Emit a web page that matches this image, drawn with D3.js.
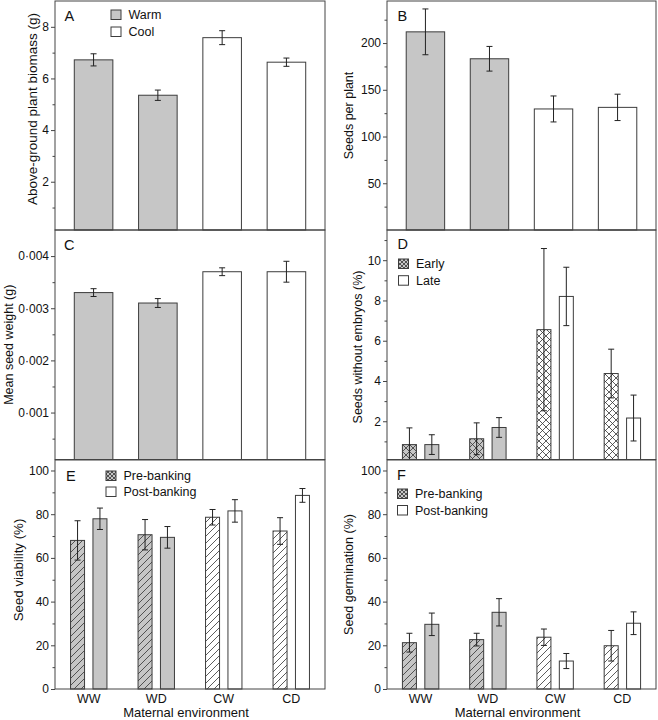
<!DOCTYPE html>
<html><head><meta charset="utf-8">
<script src="https://cdn.jsdelivr.net/npm/d3@7"></script>
<style>body{margin:0;background:#fff}svg{display:block;font-family:"Liberation Sans",Arial,Helvetica,sans-serif}</style>
</head><body><svg id="c" width="658" height="720"></svg>
<script>
// ---------- data ----------
const categories = ["WW", "WD", "CW", "CD"];
const warmCategories = ["WW", "WD"];

const biomassMean = [6.72, 5.35, 7.58, 6.63];
const biomassErr  = [0.235, 0.20, 0.27, 0.16];
const biomassTicks = [2, 4, 6, 8];
const biomassMinor = [1, 3, 5, 7];

const seedsMean = [212, 183.2, 129.5, 131.2];
const seedsErr  = [24.5, 13.2, 13.9, 14.1];
const seedsTicks = [50, 100, 150, 200];
const seedsMinor = [25, 75, 125, 175, 225];

const weightMean = [0.0033, 0.0031, 0.0037, 0.0037];
const weightErr  = [0.000075, 0.000085, 0.000075, 0.0002];
const weightTicks = [0.001, 0.002, 0.003, 0.004];
const weightMinor = [0.0005, 0.0015, 0.0025, 0.0035];

const embryoEarlyMean = [0.84, 1.13, 6.55, 4.37];
const embryoEarlyErr  = [0.83, 0.79, 4.03, 1.21];
const embryoLateMean  = [0.84, 1.69, 8.2, 2.16];
const embryoLateErr   = [0.49, 0.49, 1.45, 1.14];
const embryoTicks = [2, 4, 6, 8, 10];
const embryoMinor = [1, 3, 5, 7, 9, 11];

const viabilityPreMean  = [68.0, 70.6, 78.6, 72.3];
const viabilityPreErr   = [9.0, 6.95, 3.55, 6.1];
const viabilityPostMean = [77.9, 69.4, 81.5, 88.6];
const viabilityPostErr  = [4.9, 4.95, 5.15, 3.15];

const germPreMean  = [21.2, 22.6, 23.7, 19.8];
const germPreErr   = [4.3, 2.9, 3.75, 7.0];
const germPostMean = [29.6, 35.1, 12.8, 30.1];
const germPostErr  = [5.15, 6.25, 3.45, 5.2];

const pctTicks = [0, 20, 40, 60, 80, 100];
const pctMinor = [10, 30, 50, 70, 90];

const legendTemp = ["Warm", "Cool"];
const legendEmbryo = ["Early", "Late"];
const legendBank = ["Pre-banking", "Post-banking"];
const xTitle = "Maternal environment";

// ---------- style ----------
const GRAY = "#c6c6c6", STROKE = "#3c3c3c", FRAME = "#444";
const svg = d3.select("#c");
const defs = svg.append("defs");

function makePattern(id, bg, size, cross) {
  const p = defs.append("pattern").attr("id", id).attr("patternUnits", "userSpaceOnUse")
    .attr("width", size).attr("height", size);
  p.append("rect").attr("width", size).attr("height", size).attr("fill", bg);
  const s = size;
  p.append("path").attr("d", `M0,${s} L${s},0 M${-s/2},${s/2} L${s/2},${-s/2} M${s/2},${s*1.5} L${s*1.5},${s/2}`)
    .attr("stroke", "#333").attr("stroke-width", 0.8).attr("fill", "none");
  if (cross) {
    p.append("path").attr("d", `M0,0 L${s},${s} M${-s/2},${s/2} L${s/2},${s*1.5} M${s/2},${-s/2} L${s*1.5},${s/2}`)
      .attr("stroke", "#333").attr("stroke-width", 0.8).attr("fill", "none");
  }
}
makePattern("crossGray", GRAY, 7, true);
makePattern("crossWhite", "#fff", 7, true);
makePattern("hatchGray", GRAY, 7, false);
makePattern("hatchWhite", "#fff", 7, false);
makePattern("crossLegend", GRAY, 4, true);

const isWarm = c => warmCategories.includes(c);

const cols = [[55, 325], [387, 656]];
const rows = [[1, 230], [230, 459.5], [460, 689]];

function panel(o) {
  const [x0, x1] = cols[o.col], [y0, y1] = rows[o.row];
  const y = d3.scaleLinear().domain(o.domain).range([y1, y0]);
  const g = svg.append("g");
  const fmt = o.fmt || (d => d);
  g.append("g").attr("transform", `translate(${x0},0)`)
    .call(d3.axisLeft(y).tickValues(o.major).tickSize(4).tickPadding(2).tickFormat(fmt))
    .call(a => a.select(".domain").remove())
    .call(a => a.selectAll("line").attr("stroke", FRAME))
    .call(a => a.selectAll("text").attr("font-size", 12).attr("fill", "#111")
      .attr("font-family", '"Liberation Sans",Arial,sans-serif'));
  g.append("g").attr("transform", `translate(${x0},0)`)
    .call(d3.axisLeft(y).tickValues(o.minor).tickSize(2.5).tickFormat(""))
    .call(a => a.select(".domain").remove())
    .call(a => a.selectAll("line").attr("stroke", FRAME));
  g.append("text").attr("transform", `translate(${o.titleX},${o.titleY || (y0 + y1) / 2}) rotate(-90)`)
    .attr("text-anchor", "middle").attr("dy", "0.35em").attr("font-size", o.titleSize || 12.5).attr("fill", "#111")
    .text(o.title);
  return { g, y, x0, x1, y0, y1 };
}

function errBars(g, y, xs, means, errs, y1) {
  means.forEach((m, i) => {
    const top = y(m + errs[i]);
    const lowV = m - errs[i];
    const bot = Math.min(y(lowV), y1);
    const cx = xs[i];
    g.append("line").attr("x1", cx).attr("x2", cx).attr("y1", top).attr("y2", bot)
      .attr("stroke", "#222").attr("stroke-width", 1);
    g.append("line").attr("x1", cx - 3).attr("x2", cx + 3).attr("y1", top).attr("y2", top)
      .attr("stroke", "#222").attr("stroke-width", 1);
    if (y(lowV) < y1 - 0.5)
      g.append("line").attr("x1", cx - 3).attr("x2", cx + 3).attr("y1", bot).attr("y2", bot)
        .attr("stroke", "#222").attr("stroke-width", 1);
  });
}

function singlePanel(o, means, errs) {
  const p = panel(o);
  const x = d3.scaleBand().domain(categories).range([p.x0, p.x1]).paddingInner(0.4).paddingOuter(0.3);
  p.g.selectAll("rect.bar").data(categories).join("rect").attr("class", "bar")
    .attr("x", d => x(d)).attr("width", x.bandwidth())
    .attr("y", (d, i) => p.y(means[i])).attr("height", (d, i) => p.y1 - p.y(means[i]))
    .attr("fill", d => isWarm(d) ? GRAY : "#fff").attr("stroke", STROKE).attr("stroke-width", 1);
  errBars(p.g, p.y, categories.map(c => x(c) + x.bandwidth() / 2), means, errs, p.y1);
  return p;
}

function groupedPanel(o, m1, e1, m2, e2, pat1) {
  const p = panel(o);
  const xc = d3.scalePoint().domain(categories).range([p.x0, p.x1]).padding(0.5);
  const sub = d3.scaleBand().domain(["a", "b"]).range([-18.2, 18.2]).paddingInner(0.375);
  const bw = sub.bandwidth();
  [["a", m1, e1], ["b", m2, e2]].forEach(([k, m, e]) => {
    p.g.selectAll(`rect.bar${k}`).data(categories).join("rect").attr("class", `bar${k}`)
      .attr("x", d => xc(d) + sub(k)).attr("width", bw)
      .attr("y", (d, i) => p.y(m[i])).attr("height", (d, i) => p.y1 - p.y(m[i]))
      .attr("fill", d => k === "a" ? `url(#${pat1}${isWarm(d) ? "Gray" : "White"})` : (isWarm(d) ? GRAY : "#fff"))
      .attr("stroke", STROKE).attr("stroke-width", 1);
    errBars(p.g, p.y, categories.map(c => xc(c) + sub(k) + bw / 2), m, e, p.y1);
  });
  p.xc = xc;
  return p;
}

function frame(p) {
  svg.append("rect").attr("x", p.x0).attr("y", p.y0).attr("width", p.x1 - p.x0).attr("height", p.y1 - p.y0)
    .attr("fill", "none").attr("stroke", FRAME).attr("stroke-width", 1);
}
function letter(t, x, yb) {
  svg.append("text").attr("x", x).attr("y", yb).attr("font-size", 14.5).attr("fill", "#111").text(t);
}
function legend(labels, fills, x, y, dy) {
  labels.forEach((l, i) => {
    svg.append("rect").attr("x", x).attr("y", y + i * dy).attr("width", 10).attr("height", 9.5)
      .attr("fill", fills[i]).attr("stroke", STROKE).attr("stroke-width", 1);
    svg.append("text").attr("x", x + 17.5).attr("y", y + i * dy + 9.3).attr("font-size", 12.5)
      .attr("fill", "#111").text(l);
  });
}
function xAxis(p) {
  categories.forEach(c => {
    svg.append("text").attr("x", p.xc(c)).attr("y", 703).attr("text-anchor", "middle")
      .attr("font-size", 12.5).attr("fill", "#111").text(c);
  });
  svg.append("text").attr("x", (p.x0 + p.x1) / 2 - 4).attr("y", 717).attr("text-anchor", "middle")
    .attr("font-size", 13).attr("fill", "#111").text(xTitle);
}

const dot = d => d3.format(".3f")(d).replace(".", "·");

const pA = singlePanel({ col: 0, row: 0, domain: [0.13, 9.0], major: biomassTicks, minor: biomassMinor,
  title: "Above-ground plant biomass (g)", titleX: 32.7, titleY: 109, titleSize: 13.5 }, biomassMean, biomassErr);
const pB = singlePanel({ col: 1, row: 0, domain: [0, 245], major: seedsTicks, minor: seedsMinor,
  title: "Seeds per plant", titleX: 348.7 }, seedsMean, seedsErr);
const pC = singlePanel({ col: 0, row: 1, domain: [0.0001, 0.0045], major: weightTicks, minor: weightMinor,
  fmt: dot, title: "Mean seed weight (g)", titleX: 9 }, weightMean, weightErr);
const pD = groupedPanel({ col: 1, row: 1, domain: [0.1, 11.5], major: embryoTicks, minor: embryoMinor,
  title: "Seeds without embryos (%)", titleX: 357.7, titleY: 347 }, embryoEarlyMean, embryoEarlyErr, embryoLateMean, embryoLateErr, "cross");
const pE = groupedPanel({ col: 0, row: 2, domain: [0, 104.8], major: pctTicks, minor: pctMinor,
  title: "Seed viability (%)", titleX: 18.7, titleY: 570, titleSize: 13.3 }, viabilityPreMean, viabilityPreErr, viabilityPostMean, viabilityPostErr, "hatch");
const pF = groupedPanel({ col: 1, row: 2, domain: [0, 104.8], major: pctTicks, minor: pctMinor,
  title: "Seed germination (%)", titleX: 348.7 }, germPreMean, germPreErr, germPostMean, germPostErr, "hatch");

[pA, pB, pC, pD, pE, pF].forEach(frame);
xAxis(pE); xAxis(pF);

letter("A", 64.5, 20.5); letter("B", 397.5, 20.5); letter("C", 64, 250);
letter("D", 397.5, 249); letter("E", 66, 481); letter("F", 397, 480);

legend(legendTemp, [GRAY, "#fff"], 111, 10, 17);
legend(legendEmbryo, ["url(#crossLegend)", "#fff"], 398.5, 259, 16.7);
legend(legendBank, ["url(#crossLegend)", "#fff"], 106, 471, 16);
legend(legendBank, ["url(#crossLegend)", "#fff"], 397.5, 489, 16.5);
</script></body></html>
